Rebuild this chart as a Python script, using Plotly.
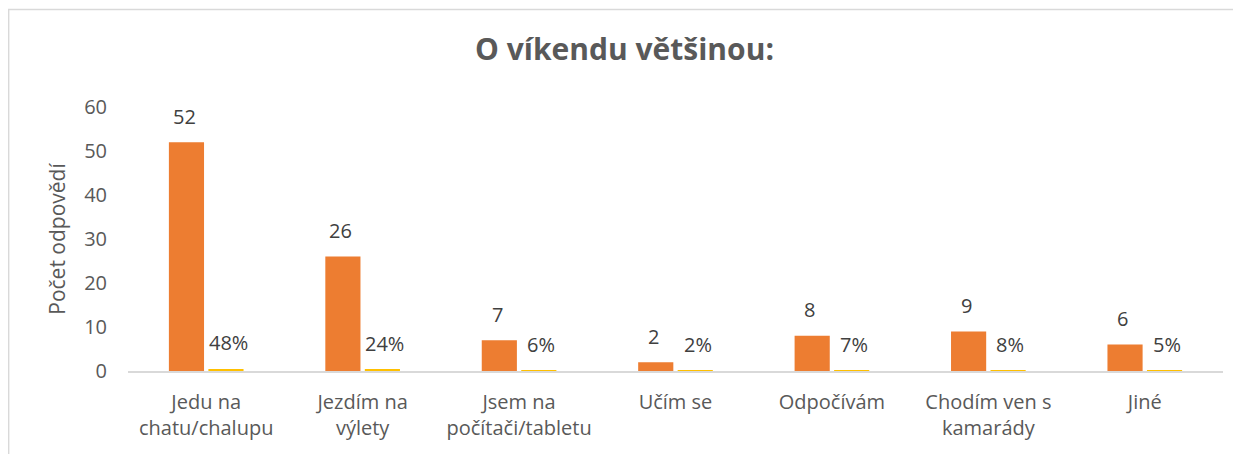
import plotly.graph_objects as go

categories = [
    "Jedu na<br>chatu/chalupu",
    "Jezdím na<br>výlety",
    "Jsem na<br>počítači/tabletu",
    "Učím se",
    "Odpočívám",
    "Chodím ven s<br>kamarády",
    "Jiné",
]
counts = [52, 26, 7, 2, 8, 9, 6]
shares = [0.48, 0.24, 0.06, 0.02, 0.07, 0.08, 0.05]

ORANGE = "#ED7D31"
GOLD = "#FFC000"
TEXT = "#404040"
MUTED = "#595959"
FONT = "Open Sans, Noto Sans, sans-serif"

fig = go.Figure()
fig.add_trace(go.Bar(x=categories, y=counts, name="Počet", marker=dict(color=ORANGE, line=dict(width=0))))
fig.add_trace(go.Bar(x=categories, y=shares, name="Podíl", marker=dict(color=GOLD, line=dict(width=0))))

# data labels sit a fixed distance above each bar, like Excel does
for cat, n, p in zip(categories, counts, shares):
    fig.add_annotation(x=cat, y=n, text=str(n), xshift=-22, yshift=26, showarrow=False,
                       font=dict(size=20, color=TEXT, family=FONT))
    fig.add_annotation(x=cat, y=p, text=f"{p:.0%}", xshift=22, yshift=26, showarrow=False,
                       font=dict(size=20, color=TEXT, family=FONT))

# page body adds an 8px margin, so the figure is 8px smaller than the window
fig.update_layout(
    width=1233, height=446,
    barmode="group", bargap=0.495, bargroupgap=0.11,
    plot_bgcolor="white", paper_bgcolor="white",
    showlegend=False,
    margin=dict(l=120, r=18, t=99, b=83),
    font=dict(family=FONT, color=MUTED, size=20),
    title=dict(text="<b>O víkendu většinou:</b>", x=0.5, xanchor="center",
               yref="container", y=0.906, yanchor="middle",
               font=dict(size=30, color=MUTED, family=FONT)),
    shapes=[dict(type="rect", xref="paper", yref="paper", x0=-0.109, x1=1.2, y0=-0.6, y1=1.369,
                 line=dict(color="#D9D9D9", width=1.5), fillcolor="rgba(0,0,0,0)", layer="below")],
)
fig.update_xaxes(showline=True, linecolor="#D9D9D9", linewidth=1.5, showgrid=False,
                 ticks="", tickfont=dict(size=20, color=MUTED), ticklabelstandoff=12)
fig.update_yaxes(range=[0, 60], dtick=10, showgrid=False, zeroline=False, showline=False,
                 tickfont=dict(size=20, color=MUTED), ticklabelstandoff=20,
                 title=dict(text="Počet odpovědí", font=dict(size=21, color=MUTED), standoff=12))

fig.write_html("out.html")
